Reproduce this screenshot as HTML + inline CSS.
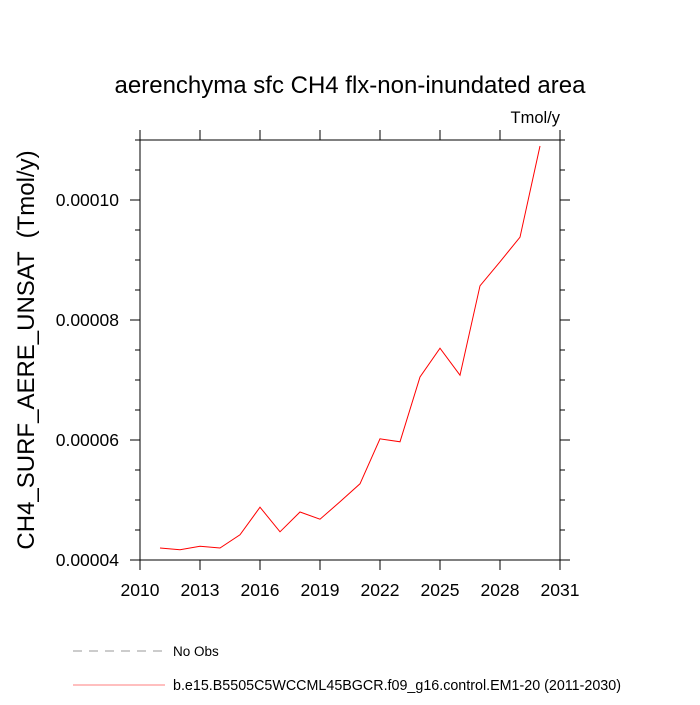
<!DOCTYPE html>
<html><head><meta charset="utf-8"><style>body{margin:0;background:#fff}svg{font-family:"Liberation Sans",sans-serif}</style></head>
<body>
<svg width="700" height="700">
<text x="350" y="93" font-size="24" text-anchor="middle">aerenchyma sfc CH4 flx-non-inundated area</text>
<text x="560" y="123" font-size="16.5" text-anchor="end">Tmol/y</text>
<text transform="translate(34,350) rotate(-90)" font-size="24" text-anchor="middle" xml:space="preserve">CH4_SURF_AERE_UNSAT  (Tmol/y)</text>
<g id="axes"></g>
<polyline id="line" fill="none" stroke="#ff0000" stroke-width="1"/>
<line x1="73" y1="651" x2="165" y2="651" stroke="#999" stroke-dasharray="9,7"/>
<text x="173" y="656" font-size="13.5">No Obs</text>
<line x1="73" y1="685" x2="165" y2="685" stroke="#ff5555" stroke-width="0.8"/>
<text x="173" y="690" font-size="14.3">b.e15.B5505C5WCCML45BGCR.f09_g16.control.EM1-20 (2011-2030)</text>
</svg>
<script>
const years=[2011,2012,2013,2014,2015,2016,2017,2018,2019,2020,2021,2022,2023,2024,2025,2026,2027,2028,2029,2030];
const values=[0.0000420,0.0000417,0.0000423,0.0000420,0.0000442,0.0000488,0.0000447,0.0000480,0.0000468,0.0000497,0.0000527,0.0000602,0.0000597,0.0000705,0.0000753,0.0000708,0.0000857,0.0000897,0.0000938,0.0001090];
const xTicks=[2010,2013,2016,2019,2022,2025,2028,2031];
const yTicks=[0.00004,0.00006,0.00008,0.00010];
const yTickLabels=["0.00004","0.00006","0.00008","0.00010"];
const L=140,R=560,T=140,B=560;
const xs=v=>L+(v-2010)/21*(R-L);
const ys=v=>B-(v-0.00004)/0.00007*(B-T);
const NS="http://www.w3.org/2000/svg";
const ax=document.getElementById('axes');
function mk(t,a){const e=document.createElementNS(NS,t);for(const k in a)e.setAttribute(k,a[k]);ax.appendChild(e);return e;}
const fr=mk('rect',{x:L,y:T,width:R-L,height:B-T,fill:'none',stroke:'#000','stroke-width':1});


xTicks.forEach(v=>{const x=xs(v);
mk('line',{x1:x,y1:B,x2:x,y2:B+10,stroke:'#000'});
mk('line',{x1:x,y1:T,x2:x,y2:T-10,stroke:'#000'});
const t=mk('text',{x:x,y:B+36,'font-size':17.5,'text-anchor':'middle'});t.textContent=v;

});
for(let v=0.00004;v<=0.000110001;v+=0.000005){const y=ys(v);const major=yTicks.some(m=>Math.abs(m-v)<1e-9);const len=major?10:5;
mk('line',{x1:L,y1:y,x2:L-len,y2:y,stroke:'#000'});mk('line',{x1:R,y1:y,x2:R+len,y2:y,stroke:'#000'});}
yTicks.forEach((v,i)=>{const t=mk('text',{x:L-21,y:ys(v)+6,'font-size':17.5,'text-anchor':'end'});t.textContent=yTickLabels[i];

});
document.getElementById('line').setAttribute('points',years.map((y,i)=>xs(y)+','+ys(values[i])).join(' '));
</script>
</body></html>
